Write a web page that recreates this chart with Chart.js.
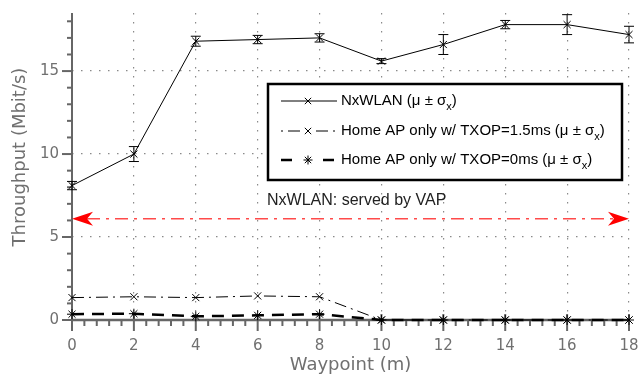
<!DOCTYPE html>
<html>
<head>
<meta charset="utf-8">
<script src="https://cdn.jsdelivr.net/npm/chart.js"></script>
<style>
  html, body { margin: 0; padding: 0; background: #fff; }
  #wrap { width: 638px; height: 378px; position: relative; }
</style>
</head>
<body>
<div id="wrap"><canvas id="chart"></canvas></div>
<script>
// Data
const waypoints = [0, 2, 4, 6, 8, 10, 12, 14, 16, 18];
const nxwlanMean = [8.1, 10.0, 16.8, 16.9, 17.0, 15.6, 16.6, 17.8, 17.8, 17.2];
const nxwlanStd = [0.25, 0.45, 0.3, 0.25, 0.25, 0.15, 0.6, 0.25, 0.6, 0.5];
const txop15Mean = [1.35, 1.4, 1.35, 1.45, 1.4, 0, 0, 0, 0, 0];
const txop0Mean = [0.35, 0.38, 0.22, 0.28, 0.35, 0, 0, 0, 0, 0];
const vapLevel = 6.1;
const yMajorTicks = [0, 5, 10, 15];
const seriesLabels = ['NxWLAN', 'Home AP only w/ TXOP=1.5ms', 'Home AP only w/ TXOP=0ms'];
const annotationText = 'NxWLAN: served by VAP';
const xTitle = 'Waypoint (m)';
const yTitle = 'Throughput (Mbit/s)';

const AXIS_GREY = '#666';
const LABEL_GREY = '#707070';
const GEO_FONT = '"DejaVu Sans", sans-serif';
const SANS_FONT = '"Liberation Sans", Arial, sans-serif';

const toPoints = (vals) => vals.map((v, i) => ({ x: waypoints[i], y: v }));

/* ======================
   CUSTOM DRAWING
   ====================== */

const drawArrowHead = (ctx, tipX, y, dir) => {
    // dir = -1 for left pointing, 1 for right pointing
    ctx.beginPath();
    ctx.moveTo(tipX, y);
    ctx.lineTo(tipX - dir * 21, y - 7);
    ctx.lineTo(tipX - dir * 15, y);
    ctx.lineTo(tipX - dir * 21, y + 7);
    ctx.closePath();
    ctx.fill();
};

const axesPlugin = {
    id: 'axesPlugin',
    beforeDatasetsDraw(chart) {
        const { ctx, chartArea: a, scales: { x, y } } = chart;
        ctx.save();
        ctx.strokeStyle = AXIS_GREY;

        // y axis line + ticks
        ctx.lineWidth = 2;
        ctx.beginPath();
        ctx.moveTo(a.left, a.top);
        ctx.lineTo(a.left, a.bottom);
        ctx.stroke();
        for (let v = 0; v <= 18; v++) {
            const py = y.getPixelForValue(v);
            const len = v % 5 === 0 ? 10 : 5;
            ctx.beginPath();
            ctx.moveTo(a.left - len, py);
            ctx.lineTo(a.left, py);
            ctx.stroke();
        }

        // x axis line + ticks
        ctx.lineWidth = 2.5;
        ctx.beginPath();
        ctx.moveTo(a.left, a.bottom);
        ctx.lineTo(a.right, a.bottom);
        ctx.stroke();
        ctx.lineWidth = 2;
        for (let i = 0; i <= 45; i++) {
            const v = i * 0.4;
            const px = x.getPixelForValue(v);
            const major = i % 5 === 0;
            ctx.beginPath();
            ctx.moveTo(px, a.bottom + (major ? -6 : 0));
            ctx.lineTo(px, a.bottom + (major ? 11 : 6));
            ctx.stroke();
        }

        // red served-by-VAP arrow
        const ay = y.getPixelForValue(vapLevel);
        const x0 = x.getPixelForValue(0);
        const x1 = x.getPixelForValue(18);
        ctx.strokeStyle = '#ff4a4a';
        ctx.fillStyle = '#ff0000';
        ctx.lineWidth = 1.6;
        ctx.setLineDash([13, 6, 3, 6]);
        ctx.beginPath();
        ctx.moveTo(x0 + 15, ay);
        ctx.lineTo(x1 - 15, ay);
        ctx.stroke();
        ctx.setLineDash([]);
        drawArrowHead(ctx, x0, ay, -1);
        drawArrowHead(ctx, x1, ay, 1);

        ctx.fillStyle = '#222';
        ctx.font = '16px ' + SANS_FONT;
        ctx.textAlign = 'left';
        ctx.textBaseline = 'middle';
        ctx.fillText(annotationText, 267, 201);

        // axis titles
        ctx.fillStyle = LABEL_GREY;
        ctx.font = '18px ' + GEO_FONT;
        ctx.textAlign = 'center';
        ctx.fillText(xTitle, (a.left + a.right) / 2, 365);
        ctx.translate(20, 157);
        ctx.rotate(-Math.PI / 2);
        ctx.fillText(yTitle, 0, 0);
        ctx.restore();
    },
    afterDatasetsDraw(chart) {
        // error bars for NxWLAN
        const { ctx, scales: { x, y } } = chart;
        ctx.save();
        ctx.strokeStyle = '#000';
        ctx.lineWidth = 1;
        waypoints.forEach((w, i) => {
            const px = x.getPixelForValue(w);
            const lo = y.getPixelForValue(nxwlanMean[i] - nxwlanStd[i]);
            const hi = y.getPixelForValue(nxwlanMean[i] + nxwlanStd[i]);
            ctx.beginPath();
            ctx.moveTo(px, lo); ctx.lineTo(px, hi);
            ctx.moveTo(px - 5, lo); ctx.lineTo(px + 5, lo);
            ctx.moveTo(px - 5, hi); ctx.lineTo(px + 5, hi);
            ctx.stroke();
        });
        ctx.restore();
    },
    afterDraw(chart) {
        // legend box
        const { ctx } = chart;
        const box = { left: 268, top: 84, right: 622, bottom: 180 };
        const rows = [101, 131, 160];
        ctx.save();
        ctx.fillStyle = '#fff';
        ctx.fillRect(box.left, box.top, box.right - box.left, box.bottom - box.top);
        ctx.strokeStyle = '#000';
        ctx.lineWidth = 2.5;
        ctx.strokeRect(box.left, box.top, box.right - box.left, box.bottom - box.top);

        chart.data.datasets.forEach((ds, i) => {
            const ry = rows[i];
            ctx.strokeStyle = '#000';
            ctx.lineWidth = ds.borderWidth;
            ctx.beginPath();
            if (i === 2) {
                ctx.moveTo(281, ry); ctx.lineTo(292, ry);
                ctx.moveTo(323, ry); ctx.lineTo(334, ry);
            } else if (i === 1) {
                ctx.moveTo(281, ry); ctx.lineTo(283, ry);
                ctx.moveTo(288, ry); ctx.lineTo(300, ry);
                ctx.moveTo(316, ry); ctx.lineTo(328, ry);
                ctx.moveTo(333, ry); ctx.lineTo(335, ry);
            } else {
                ctx.moveTo(281, ry); ctx.lineTo(337, ry);
            }
            ctx.stroke();
            ctx.lineWidth = 1;
            Chart.helpers.drawPoint(ctx, { pointStyle: ds.pointStyle, radius: 4.5, borderWidth: 1 }, 308, ry);

            // label with subscript
            let tx = 341;
            ctx.fillStyle = '#000';
            ctx.textAlign = 'left';
            ctx.textBaseline = 'middle';
            ctx.font = '15px ' + SANS_FONT;
            const main = ds.label + ' (\u03bc \u00b1 \u03c3';
            ctx.fillText(main, tx, ry);
            tx += ctx.measureText(main).width;
            ctx.font = '11px ' + SANS_FONT;
            ctx.fillText('x', tx, ry + 6);
            tx += ctx.measureText('x').width;
            ctx.font = '15px ' + SANS_FONT;
            ctx.fillText(')', tx, ry);
        });
        ctx.restore();
    }
};

/* ======================
   CHART
   ====================== */

const ctx = document.getElementById('chart').getContext('2d');
new Chart(ctx, {
    type: 'line',
    data: {
        datasets: [
            {
                label: seriesLabels[0],
                data: toPoints(nxwlanMean),
                borderColor: '#000',
                borderWidth: 1,
                pointStyle: 'crossRot',
                pointRadius: 5,
                pointBorderColor: '#000',
                pointBorderWidth: 1,
                order: 0
            },
            {
                label: seriesLabels[1],
                data: toPoints(txop15Mean),
                borderColor: '#000',
                borderWidth: 1,
                borderDash: [12, 5, 2, 5],
                pointStyle: 'crossRot',
                pointRadius: 5,
                pointBorderColor: '#000',
                pointBorderWidth: 1,
                order: 1
            },
            {
                label: seriesLabels[2],
                data: toPoints(txop0Mean),
                borderColor: '#000',
                borderWidth: 2.5,
                borderDash: [12, 8],
                pointStyle: 'star',
                pointRadius: 5,
                pointBorderColor: '#000',
                pointBorderWidth: 1,
                order: 2
            }
        ]
    },
    options: {
        responsive: true,
        maintainAspectRatio: false,
        animation: false,
        clip: false,
        layout: { autoPadding: false, padding: { top: 13, right: 9, left: 0, bottom: 0 } },
        plugins: {
            legend: { display: false },
            tooltip: { enabled: false }
        },
        scales: {
            x: {
                type: 'linear',
                min: 0,
                max: 18,
                afterFit: (scale) => { scale.height = 58; scale.paddingRight = 0; scale.paddingLeft = 0; },
                ticks: {
                    stepSize: 2,
                    color: LABEL_GREY,
                    font: { family: GEO_FONT, size: 15 },
                    padding: 17,
                    maxRotation: 0
                },
                grid: {
                    drawTicks: false,
                    color: (c) => c.tick && c.tick.value === 0 ? 'rgba(0,0,0,0)' : '#8a8a8a',
                    lineWidth: 1.2
                },
                border: { display: false, dash: [1.5, 7.5] }
            },
            y: {
                min: 0,
                max: 18.5,
                afterFit: (scale) => { scale.width = 72; scale.paddingTop = 0; scale.paddingBottom = 0; },
                afterBuildTicks: (scale) => {
                    scale.ticks = yMajorTicks.map(v => ({ value: v }));
                },
                ticks: {
                    color: LABEL_GREY,
                    font: { family: GEO_FONT, size: 15 },
                    padding: 13
                },
                grid: {
                    drawTicks: false,
                    color: (c) => c.tick && c.tick.value === 0 ? 'rgba(0,0,0,0)' : '#8a8a8a',
                    lineWidth: 1.2
                },
                border: { display: false, dash: [1.5, 7.5] }
            }
        }
    },
    plugins: [axesPlugin]
});
</script>
</body>
</html>
